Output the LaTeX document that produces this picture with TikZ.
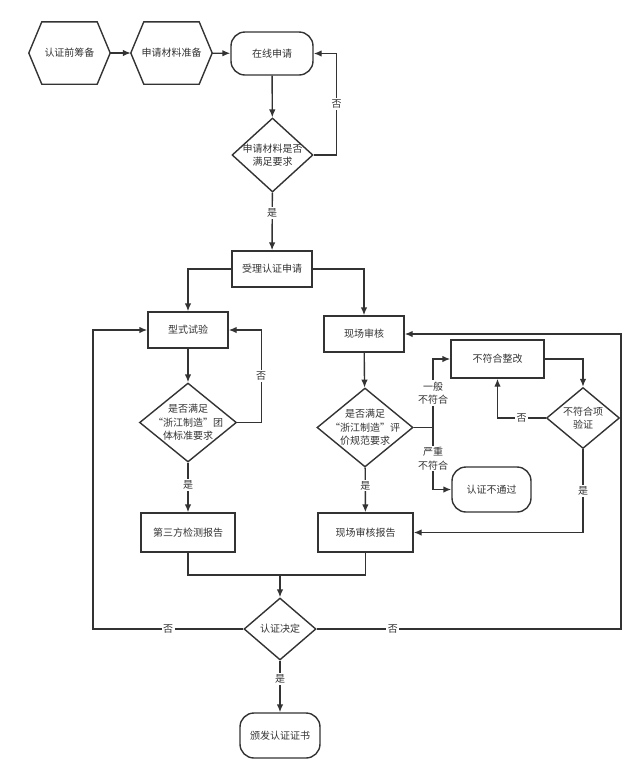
\documentclass[tikz,border=0pt]{standalone}
\usepackage{fontspec}
\setmainfont{Noto Sans CJK SC}
\usepackage{tikz}
\usetikzlibrary{shapes,arrows.meta,positioning}
\definecolor{ink}{HTML}{333333}

\begin{document}
\begin{tikzpicture}[x=1pt, y=-1pt, >={Latex[length=8pt,width=6.5pt]},
  every node/.style={font=\fontsize{10}{13.5}\selectfont, text=ink},
  ln/.style={draw=ink, line width=1.4pt},
  arr/.style={ln, ->},
  box/.style={ln, rectangle, inner sep=0pt},
  term/.style={ln, rectangle, rounded corners=14pt, inner sep=0pt},
  dia/.style={ln, diamond, inner sep=0pt},
  hexa/.style={rectangle, inner sep=0pt, minimum width=81pt, minimum height=62pt},
  lbl/.style={fill=white, inner sep=1.5pt, align=center}]
\useasboundingbox (0,0) rectangle (642,772);

% start
\node[hexa] (pre) at (69.5,53) {认证前筹备};
\node[hexa] (mat) at (171.5,53) {申请材料准备};
\foreach \h in {pre,mat}
  \draw[ln] (\h.west) -- ([xshift=13pt]\h.north west) -- ([xshift=-13pt]\h.north east)
    -- (\h.east) -- ([xshift=-13pt]\h.south east) -- ([xshift=13pt]\h.south west) -- cycle;
\node[term, minimum width=82pt, minimum height=43pt] (app) at (272,53.5) {在线申请};
\node[dia, minimum width=81pt, minimum height=74pt,
  label={[align=center]center:申请材料是否\\满足要求}] (chk) at (272.5,155) {};
\node[box, minimum width=80pt, minimum height=36pt] (acc) at (272,269) {受理认证申请};

% two branches
\node[box, minimum width=80pt, minimum height=36pt] (typ) at (188,330) {型式试验};
\node[box, minimum width=80pt, minimum height=36pt] (aud) at (364,334) {现场审核};
\node[dia, minimum width=97pt, minimum height=79pt,
  label={[align=center]center:是否满足\\“浙江制造”团\\体标准要求}] (q1) at (188,422.5) {};
\node[dia, minimum width=96pt, minimum height=79pt,
  label={[align=center]center:是否满足\\“浙江制造”评\\价规范要求}] (q2) at (365,427.5) {};
\node[box, minimum width=93pt, minimum height=38pt] (fix) at (497.5,359) {不符合整改};
\node[term, minimum width=79pt, minimum height=45pt] (fail) at (491.5,489.5) {认证不通过};
\node[dia, minimum width=73pt, minimum height=61pt,
  label={[align=center]center:不符合项\\验证}] (q3) at (583,418) {};
\node[box, minimum width=94pt, minimum height=39pt] (rep1) at (188,532.5) {第三方检测报告};
\node[box, minimum width=95pt, minimum height=39pt] (rep2) at (365.5,532.5) {现场审核报告};

% decision
\node[dia, minimum width=72pt, minimum height=62pt] (dec) at (280,629) {认证决定};
\node[term, minimum width=80pt, minimum height=45pt] (cert) at (280,735.5) {颁发认证证书};

\coordinate (br) at (433,427.5);
\coordinate (mrg) at (280,575);
\coordinate (lp) at (93,330);
\coordinate (rp) at (621,334);

\draw[arr] (pre) -- (mat);
\draw[arr] (mat) -- (app);
\draw[arr] (app) -- (chk);
\draw[arr] (chk.east) -- ++(23,0) |- node[lbl,pos=.25]{否} (app.east);
\draw[arr] (chk) -- node[lbl,pos=.35]{是} (acc);
\draw[arr] (acc.west) -| (typ.north);
\draw[arr] (acc.east) -| (aud.north);

\draw[arr] (typ) -- (q1);
\draw[arr] (q1.east) -- ++(24,0) |- node[lbl,pos=.25]{否} (typ.east);
\draw[arr] (q1) -- node[lbl,pos=.45]{是} (rep1);
\draw[arr] (aud) -- (q2);
\draw[arr] (q2) -- node[lbl,pos=.4]{是} (rep2);
\draw[ln] (q2.east) -- (br);
\draw[arr] (br) |- node[lbl,pos=.25]{一般\\不符合} (fix.west);
\draw[arr] (br) |- node[lbl,pos=.25]{严重\\不符合} (fail.west);
\draw[arr] (fix.east) -| (q3.north);
\draw[arr] (q3.west) -| node[lbl,pos=.25]{否} (fix.south);
\draw[arr] (q3.south) |- node[lbl,pos=.25]{是} (rep2.east);

\draw[ln] (rep1.south) |- (mrg) -| (rep2.south);
\draw[arr] (mrg) -- (dec);
\draw[arr] (dec.west) -| node[lbl,pos=.25]{否} (lp) -- (typ.west);
\draw[arr] (dec.east) -| node[lbl,pos=.125]{否} (rp) -- (aud.east);
\draw[arr] (dec) -- node[lbl,pos=.35]{是} (cert);
\end{tikzpicture}
\end{document}
